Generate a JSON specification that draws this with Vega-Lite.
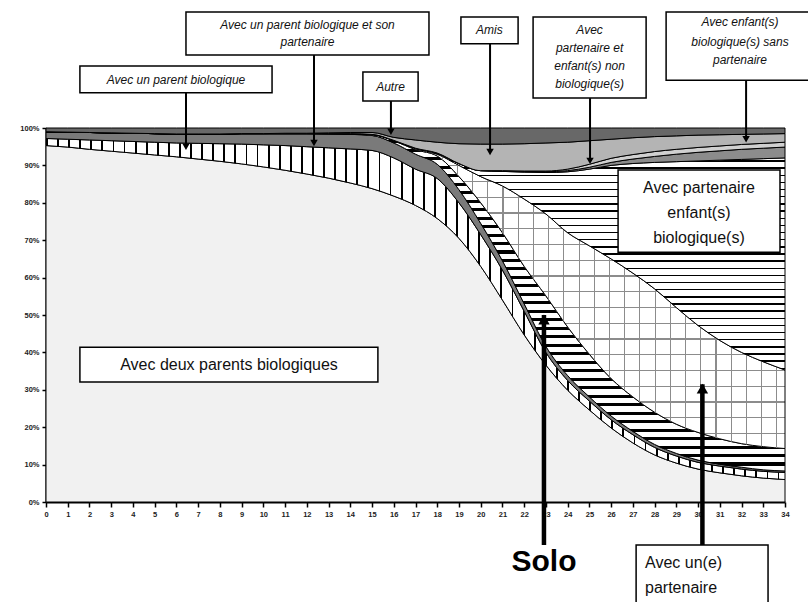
{
"$schema": "https://vega.github.io/schema/vega-lite/v6.json",
"width": 739, "height": 374,
"autosize": {"type": "none"},
"padding": {"left": 46, "top": 128, "right": 23, "bottom": 100},
"background": "white",
"config": {"view": {"stroke": null},
 "axis": {"domainColor": "#000", "domainWidth": 2, "tickColor": "#000", "tickWidth": 1.5, "tickSize": 5, "labelFont": "Liberation Sans", "labelFontSize": 7.5, "labelFontWeight": "bold", "labelColor": "#222", "grid": false, "title": null}},
"datasets": {"main": [
{"age":0,"a_deux":95.3,"b_un":1.9,"c_parpart":1.8,"d_solo":0,"e_part":0,"f_partbio":0,"g_biosans":0,"h_nonbio":0,"i_amis":0,"j_autre":1.0},
{"age":1,"a_deux":94.9,"b_un":2.1,"c_parpart":1.9,"d_solo":0,"e_part":0,"f_partbio":0,"g_biosans":0,"h_nonbio":0,"i_amis":0,"j_autre":1.1},
{"age":2,"a_deux":94.3,"b_un":2.5,"c_parpart":2.0,"d_solo":0,"e_part":0,"f_partbio":0,"g_biosans":0,"h_nonbio":0,"i_amis":0,"j_autre":1.2},
{"age":3,"a_deux":93.8,"b_un":2.8,"c_parpart":2.1,"d_solo":0,"e_part":0,"f_partbio":0,"g_biosans":0,"h_nonbio":0,"i_amis":0,"j_autre":1.3},
{"age":4,"a_deux":93.3,"b_un":3.1,"c_parpart":2.2,"d_solo":0,"e_part":0,"f_partbio":0,"g_biosans":0,"h_nonbio":0,"i_amis":0,"j_autre":1.4},
{"age":5,"a_deux":92.8,"b_un":3.4,"c_parpart":2.3,"d_solo":0,"e_part":0,"f_partbio":0,"g_biosans":0,"h_nonbio":0,"i_amis":0,"j_autre":1.5},
{"age":6,"a_deux":92.3,"b_un":3.7,"c_parpart":2.4,"d_solo":0,"e_part":0,"f_partbio":0,"g_biosans":0,"h_nonbio":0,"i_amis":0,"j_autre":1.6},
{"age":7,"a_deux":91.7,"b_un":4.2,"c_parpart":2.5,"d_solo":0,"e_part":0,"f_partbio":0,"g_biosans":0,"h_nonbio":0,"i_amis":0,"j_autre":1.6},
{"age":8,"a_deux":91.1,"b_un":4.7,"c_parpart":2.6,"d_solo":0,"e_part":0,"f_partbio":0,"g_biosans":0,"h_nonbio":0,"i_amis":0,"j_autre":1.6},
{"age":9,"a_deux":90.4,"b_un":5.3,"c_parpart":2.8,"d_solo":0,"e_part":0,"f_partbio":0,"g_biosans":0,"h_nonbio":0,"i_amis":0,"j_autre":1.5},
{"age":10,"a_deux":89.6,"b_un":5.9,"c_parpart":3.0,"d_solo":0,"e_part":0,"f_partbio":0,"g_biosans":0,"h_nonbio":0,"i_amis":0,"j_autre":1.5},
{"age":11,"a_deux":88.7,"b_un":6.6,"c_parpart":3.2,"d_solo":0,"e_part":0,"f_partbio":0,"g_biosans":0,"h_nonbio":0,"i_amis":0.1,"j_autre":1.4},
{"age":12,"a_deux":87.7,"b_un":7.3,"c_parpart":3.5,"d_solo":0,"e_part":0,"f_partbio":0,"g_biosans":0,"h_nonbio":0,"i_amis":0.1,"j_autre":1.4},
{"age":13,"a_deux":86.6,"b_un":8.1,"c_parpart":3.7,"d_solo":0.1,"e_part":0,"f_partbio":0,"g_biosans":0,"h_nonbio":0,"i_amis":0.2,"j_autre":1.3},
{"age":14,"a_deux":85.3,"b_un":9.1,"c_parpart":3.9,"d_solo":0.2,"e_part":0,"f_partbio":0,"g_biosans":0,"h_nonbio":0,"i_amis":0.3,"j_autre":1.2},
{"age":15,"a_deux":83.8,"b_un":10.2,"c_parpart":4.0,"d_solo":0.3,"e_part":0,"f_partbio":0,"g_biosans":0,"h_nonbio":0,"i_amis":0.5,"j_autre":1.2},
{"age":16,"a_deux":81.8,"b_un":10.2,"c_parpart":4.0,"d_solo":0.6,"e_part":0.1,"f_partbio":0,"g_biosans":0,"h_nonbio":0,"i_amis":0.8,"j_autre":2.5},
{"age":17,"a_deux":79.3,"b_un":9.7,"c_parpart":4.0,"d_solo":1.2,"e_part":0.3,"f_partbio":0.1,"g_biosans":0,"h_nonbio":0,"i_amis":2.2,"j_autre":3.2},
{"age":18,"a_deux":75.8,"b_un":10.7,"c_parpart":3.8,"d_solo":2.2,"e_part":0.5,"f_partbio":0.3,"g_biosans":0,"h_nonbio":0,"i_amis":2.9,"j_autre":3.8},
{"age":19,"a_deux":70.5,"b_un":9.5,"c_parpart":3.5,"d_solo":3.5,"e_part":3.0,"f_partbio":0.5,"g_biosans":0,"h_nonbio":0,"i_amis":5.3,"j_autre":4.2},
{"age":20,"a_deux":63.0,"b_un":8.5,"c_parpart":3.0,"d_solo":5.5,"e_part":7.0,"f_partbio":1.6,"g_biosans":0,"h_nonbio":0,"i_amis":7.1,"j_autre":4.3},
{"age":21,"a_deux":54.0,"b_un":8.0,"c_parpart":2.5,"d_solo":7.5,"e_part":12.5,"f_partbio":3.9,"g_biosans":0.1,"h_nonbio":0.1,"i_amis":7.1,"j_autre":4.3},
{"age":22,"a_deux":44.7,"b_un":6.3,"c_parpart":2.0,"d_solo":10.0,"e_part":18.0,"f_partbio":7.2,"g_biosans":0.2,"h_nonbio":0.1,"i_amis":7.3,"j_autre":4.2},
{"age":23,"a_deux":36.6,"b_un":3.4,"c_parpart":1.6,"d_solo":13.5,"e_part":21.9,"f_partbio":11.1,"g_biosans":0.2,"h_nonbio":0.2,"i_amis":7.5,"j_autre":4.0},
{"age":24,"a_deux":29.9,"b_un":2.6,"c_parpart":1.3,"d_solo":13.0,"e_part":25.2,"f_partbio":16.3,"g_biosans":0.3,"h_nonbio":0.4,"i_amis":7.2,"j_autre":3.8},
{"age":25,"a_deux":24.6,"b_un":2.4,"c_parpart":1.1,"d_solo":11.4,"e_part":29.0,"f_partbio":20.5,"g_biosans":0.5,"h_nonbio":0.8,"i_amis":6.3,"j_autre":3.4},
{"age":26,"a_deux":19.8,"b_un":2.2,"c_parpart":1.0,"d_solo":10.0,"e_part":32.0,"f_partbio":25.0,"g_biosans":0.8,"h_nonbio":1.1,"i_amis":5.1,"j_autre":3.0},
{"age":27,"a_deux":15.8,"b_un":2.2,"c_parpart":0.9,"d_solo":9.2,"e_part":33.1,"f_partbio":29.3,"g_biosans":1.2,"h_nonbio":1.2,"i_amis":4.5,"j_autre":2.6},
{"age":28,"a_deux":12.6,"b_un":2.0,"c_parpart":0.8,"d_solo":8.6,"e_part":33.0,"f_partbio":33.8,"g_biosans":1.6,"h_nonbio":1.3,"i_amis":4.0,"j_autre":2.3},
{"age":29,"a_deux":10.4,"b_un":1.9,"c_parpart":0.7,"d_solo":7.8,"e_part":31.2,"f_partbio":39.0,"g_biosans":2.0,"h_nonbio":1.3,"i_amis":3.6,"j_autre":2.1},
{"age":30,"a_deux":8.8,"b_un":1.8,"c_parpart":0.6,"d_solo":7.4,"e_part":28.6,"f_partbio":44.0,"g_biosans":2.3,"h_nonbio":1.3,"i_amis":3.3,"j_autre":1.9},
{"age":31,"a_deux":7.8,"b_un":1.8,"c_parpart":0.5,"d_solo":6.8,"e_part":26.3,"f_partbio":48.2,"g_biosans":2.5,"h_nonbio":1.3,"i_amis":3.0,"j_autre":1.8},
{"age":32,"a_deux":7.0,"b_un":1.8,"c_parpart":0.5,"d_solo":6.3,"e_part":24.4,"f_partbio":51.6,"g_biosans":2.7,"h_nonbio":1.3,"i_amis":2.7,"j_autre":1.7},
{"age":33,"a_deux":6.4,"b_un":1.8,"c_parpart":0.4,"d_solo":6.2,"e_part":22.7,"f_partbio":54.3,"g_biosans":2.8,"h_nonbio":1.3,"i_amis":2.5,"j_autre":1.6},
{"age":34,"a_deux":6.0,"b_un":1.9,"c_parpart":0.4,"d_solo":6.0,"e_part":21.0,"f_partbio":56.7,"g_biosans":2.9,"h_nonbio":1.3,"i_amis":2.3,"j_autre":1.5}
]},
"encoding": {
 "x": {"field": "age", "type": "quantitative", "scale": {"domain": [0, 34], "nice": false, "zero": false},
  "axis": {"values": [0,1,2,3,4,5,6,7,8,9,10,11,12,13,14,15,16,17,18,19,20,21,22,23,24,25,26,27,28,29,30,31,32,33,34], "labelAngle": 0, "labelPadding": 3, "labelFlush": false, "labelOverlap": false}},
 "y": {"field": "hi", "type": "quantitative", "scale": {"domain": [0, 100], "nice": false},
  "axis": {"values": [0,10,20,30,40,50,60,70,80,90,100], "labelExpr": "datum.value + '%'", "tickSize": 4, "labelPadding": 3}}
},
"layer": [
 {"data": {"name": "main"},
  "transform": [
   {"fold": ["a_deux","b_un","c_parpart","d_solo","e_part","f_partbio","g_biosans","h_nonbio","i_amis","j_autre"], "as": ["cat", "v"]},
   {"stack": "v", "groupby": ["age"], "sort": [{"field": "cat", "order": "ascending"}], "as": ["lo", "hi"]}
  ],
  "encoding": {"y2": {"field": "lo"}},
  "layer": [
   {"transform": [{"filter": "datum.cat == 'a_deux'"}], "mark": {"type": "area", "interpolate": "monotone", "fill": "#f1f1f1", "stroke": "#000", "strokeWidth": 1}},
   {"transform": [{"filter": "datum.cat == 'b_un'"}], "mark": {"type": "area", "interpolate": "monotone", "stroke": "#000", "strokeWidth": 1,
    "fill": {"gradient": "linear", "x1": 0, "y1": 0, "x2": 1, "y2": 0, "stops": [
{"offset":0,"color":"#000"},{"offset":0.0025,"color":"#000"},{"offset":0.0025,"color":"#fff"},{"offset":0.015,"color":"#fff"},
{"offset":0.015,"color":"#000"},{"offset":0.0175,"color":"#000"},{"offset":0.0175,"color":"#fff"},{"offset":0.03,"color":"#fff"},
{"offset":0.03,"color":"#000"},{"offset":0.0325,"color":"#000"},{"offset":0.0325,"color":"#fff"},{"offset":0.045,"color":"#fff"},
{"offset":0.045,"color":"#000"},{"offset":0.0475,"color":"#000"},{"offset":0.0475,"color":"#fff"},{"offset":0.06,"color":"#fff"},
{"offset":0.06,"color":"#000"},{"offset":0.0625,"color":"#000"},{"offset":0.0625,"color":"#fff"},{"offset":0.075,"color":"#fff"},
{"offset":0.075,"color":"#000"},{"offset":0.0775,"color":"#000"},{"offset":0.0775,"color":"#fff"},{"offset":0.09,"color":"#fff"},
{"offset":0.09,"color":"#000"},{"offset":0.0925,"color":"#000"},{"offset":0.0925,"color":"#fff"},{"offset":0.105,"color":"#fff"},
{"offset":0.105,"color":"#000"},{"offset":0.1075,"color":"#000"},{"offset":0.1075,"color":"#fff"},{"offset":0.12,"color":"#fff"},
{"offset":0.12,"color":"#000"},{"offset":0.1225,"color":"#000"},{"offset":0.1225,"color":"#fff"},{"offset":0.135,"color":"#fff"},
{"offset":0.135,"color":"#000"},{"offset":0.1375,"color":"#000"},{"offset":0.1375,"color":"#fff"},{"offset":0.15,"color":"#fff"},
{"offset":0.15,"color":"#000"},{"offset":0.1525,"color":"#000"},{"offset":0.1525,"color":"#fff"},{"offset":0.165,"color":"#fff"},
{"offset":0.165,"color":"#000"},{"offset":0.1675,"color":"#000"},{"offset":0.1675,"color":"#fff"},{"offset":0.18,"color":"#fff"},
{"offset":0.18,"color":"#000"},{"offset":0.1825,"color":"#000"},{"offset":0.1825,"color":"#fff"},{"offset":0.195,"color":"#fff"},
{"offset":0.195,"color":"#000"},{"offset":0.1975,"color":"#000"},{"offset":0.1975,"color":"#fff"},{"offset":0.21,"color":"#fff"},
{"offset":0.21,"color":"#000"},{"offset":0.2125,"color":"#000"},{"offset":0.2125,"color":"#fff"},{"offset":0.225,"color":"#fff"},
{"offset":0.225,"color":"#000"},{"offset":0.2275,"color":"#000"},{"offset":0.2275,"color":"#fff"},{"offset":0.24,"color":"#fff"},
{"offset":0.24,"color":"#000"},{"offset":0.2425,"color":"#000"},{"offset":0.2425,"color":"#fff"},{"offset":0.255,"color":"#fff"},
{"offset":0.255,"color":"#000"},{"offset":0.2575,"color":"#000"},{"offset":0.2575,"color":"#fff"},{"offset":0.27,"color":"#fff"},
{"offset":0.27,"color":"#000"},{"offset":0.2725,"color":"#000"},{"offset":0.2725,"color":"#fff"},{"offset":0.285,"color":"#fff"},
{"offset":0.285,"color":"#000"},{"offset":0.2875,"color":"#000"},{"offset":0.2875,"color":"#fff"},{"offset":0.3,"color":"#fff"},
{"offset":0.3,"color":"#000"},{"offset":0.3025,"color":"#000"},{"offset":0.3025,"color":"#fff"},{"offset":0.315,"color":"#fff"},
{"offset":0.315,"color":"#000"},{"offset":0.3175,"color":"#000"},{"offset":0.3175,"color":"#fff"},{"offset":0.33,"color":"#fff"},
{"offset":0.33,"color":"#000"},{"offset":0.3325,"color":"#000"},{"offset":0.3325,"color":"#fff"},{"offset":0.345,"color":"#fff"},
{"offset":0.345,"color":"#000"},{"offset":0.3475,"color":"#000"},{"offset":0.3475,"color":"#fff"},{"offset":0.36,"color":"#fff"},
{"offset":0.36,"color":"#000"},{"offset":0.3625,"color":"#000"},{"offset":0.3625,"color":"#fff"},{"offset":0.375,"color":"#fff"},
{"offset":0.375,"color":"#000"},{"offset":0.3775,"color":"#000"},{"offset":0.3775,"color":"#fff"},{"offset":0.39,"color":"#fff"},
{"offset":0.39,"color":"#000"},{"offset":0.3925,"color":"#000"},{"offset":0.3925,"color":"#fff"},{"offset":0.405,"color":"#fff"},
{"offset":0.405,"color":"#000"},{"offset":0.4075,"color":"#000"},{"offset":0.4075,"color":"#fff"},{"offset":0.42,"color":"#fff"},
{"offset":0.42,"color":"#000"},{"offset":0.4225,"color":"#000"},{"offset":0.4225,"color":"#fff"},{"offset":0.435,"color":"#fff"},
{"offset":0.435,"color":"#000"},{"offset":0.4375,"color":"#000"},{"offset":0.4375,"color":"#fff"},{"offset":0.45,"color":"#fff"},
{"offset":0.45,"color":"#000"},{"offset":0.4525,"color":"#000"},{"offset":0.4525,"color":"#fff"},{"offset":0.465,"color":"#fff"},
{"offset":0.465,"color":"#000"},{"offset":0.4675,"color":"#000"},{"offset":0.4675,"color":"#fff"},{"offset":0.48,"color":"#fff"},
{"offset":0.48,"color":"#000"},{"offset":0.4825,"color":"#000"},{"offset":0.4825,"color":"#fff"},{"offset":0.495,"color":"#fff"},
{"offset":0.495,"color":"#000"},{"offset":0.4975,"color":"#000"},{"offset":0.4975,"color":"#fff"},{"offset":0.51,"color":"#fff"},
{"offset":0.51,"color":"#000"},{"offset":0.5125,"color":"#000"},{"offset":0.5125,"color":"#fff"},{"offset":0.525,"color":"#fff"},
{"offset":0.525,"color":"#000"},{"offset":0.5275,"color":"#000"},{"offset":0.5275,"color":"#fff"},{"offset":0.54,"color":"#fff"},
{"offset":0.54,"color":"#000"},{"offset":0.5425,"color":"#000"},{"offset":0.5425,"color":"#fff"},{"offset":0.555,"color":"#fff"},
{"offset":0.555,"color":"#000"},{"offset":0.5575,"color":"#000"},{"offset":0.5575,"color":"#fff"},{"offset":0.57,"color":"#fff"},
{"offset":0.57,"color":"#000"},{"offset":0.5725,"color":"#000"},{"offset":0.5725,"color":"#fff"},{"offset":0.585,"color":"#fff"},
{"offset":0.585,"color":"#000"},{"offset":0.5875,"color":"#000"},{"offset":0.5875,"color":"#fff"},{"offset":0.6,"color":"#fff"},
{"offset":0.6,"color":"#000"},{"offset":0.6025,"color":"#000"},{"offset":0.6025,"color":"#fff"},{"offset":0.615,"color":"#fff"},
{"offset":0.615,"color":"#000"},{"offset":0.6175,"color":"#000"},{"offset":0.6175,"color":"#fff"},{"offset":0.63,"color":"#fff"},
{"offset":0.63,"color":"#000"},{"offset":0.6325,"color":"#000"},{"offset":0.6325,"color":"#fff"},{"offset":0.645,"color":"#fff"},
{"offset":0.645,"color":"#000"},{"offset":0.6475,"color":"#000"},{"offset":0.6475,"color":"#fff"},{"offset":0.66,"color":"#fff"},
{"offset":0.66,"color":"#000"},{"offset":0.6625,"color":"#000"},{"offset":0.6625,"color":"#fff"},{"offset":0.675,"color":"#fff"},
{"offset":0.675,"color":"#000"},{"offset":0.6775,"color":"#000"},{"offset":0.6775,"color":"#fff"},{"offset":0.69,"color":"#fff"},
{"offset":0.69,"color":"#000"},{"offset":0.6925,"color":"#000"},{"offset":0.6925,"color":"#fff"},{"offset":0.705,"color":"#fff"},
{"offset":0.705,"color":"#000"},{"offset":0.7075,"color":"#000"},{"offset":0.7075,"color":"#fff"},{"offset":0.72,"color":"#fff"},
{"offset":0.72,"color":"#000"},{"offset":0.7225,"color":"#000"},{"offset":0.7225,"color":"#fff"},{"offset":0.735,"color":"#fff"},
{"offset":0.735,"color":"#000"},{"offset":0.7375,"color":"#000"},{"offset":0.7375,"color":"#fff"},{"offset":0.75,"color":"#fff"},
{"offset":0.75,"color":"#000"},{"offset":0.7525,"color":"#000"},{"offset":0.7525,"color":"#fff"},{"offset":0.765,"color":"#fff"},
{"offset":0.765,"color":"#000"},{"offset":0.7675,"color":"#000"},{"offset":0.7675,"color":"#fff"},{"offset":0.78,"color":"#fff"},
{"offset":0.78,"color":"#000"},{"offset":0.7825,"color":"#000"},{"offset":0.7825,"color":"#fff"},{"offset":0.795,"color":"#fff"},
{"offset":0.795,"color":"#000"},{"offset":0.7975,"color":"#000"},{"offset":0.7975,"color":"#fff"},{"offset":0.81,"color":"#fff"},
{"offset":0.81,"color":"#000"},{"offset":0.8125,"color":"#000"},{"offset":0.8125,"color":"#fff"},{"offset":0.825,"color":"#fff"},
{"offset":0.825,"color":"#000"},{"offset":0.8275,"color":"#000"},{"offset":0.8275,"color":"#fff"},{"offset":0.84,"color":"#fff"},
{"offset":0.84,"color":"#000"},{"offset":0.8425,"color":"#000"},{"offset":0.8425,"color":"#fff"},{"offset":0.855,"color":"#fff"},
{"offset":0.855,"color":"#000"},{"offset":0.8575,"color":"#000"},{"offset":0.8575,"color":"#fff"},{"offset":0.87,"color":"#fff"},
{"offset":0.87,"color":"#000"},{"offset":0.8725,"color":"#000"},{"offset":0.8725,"color":"#fff"},{"offset":0.885,"color":"#fff"},
{"offset":0.885,"color":"#000"},{"offset":0.8875,"color":"#000"},{"offset":0.8875,"color":"#fff"},{"offset":0.9,"color":"#fff"},
{"offset":0.9,"color":"#000"},{"offset":0.9025,"color":"#000"},{"offset":0.9025,"color":"#fff"},{"offset":0.915,"color":"#fff"},
{"offset":0.915,"color":"#000"},{"offset":0.9175,"color":"#000"},{"offset":0.9175,"color":"#fff"},{"offset":0.93,"color":"#fff"},
{"offset":0.93,"color":"#000"},{"offset":0.9325,"color":"#000"},{"offset":0.9325,"color":"#fff"},{"offset":0.945,"color":"#fff"},
{"offset":0.945,"color":"#000"},{"offset":0.9475,"color":"#000"},{"offset":0.9475,"color":"#fff"},{"offset":0.96,"color":"#fff"},
{"offset":0.96,"color":"#000"},{"offset":0.9625,"color":"#000"},{"offset":0.9625,"color":"#fff"},{"offset":0.975,"color":"#fff"},
{"offset":0.975,"color":"#000"},{"offset":0.9775,"color":"#000"},{"offset":0.9775,"color":"#fff"},{"offset":0.99,"color":"#fff"},
{"offset":0.99,"color":"#000"},{"offset":0.9925,"color":"#000"},{"offset":0.9925,"color":"#fff"},{"offset":1,"color":"#fff"}
    ]}}},
   {"transform": [{"filter": "datum.cat == 'c_parpart'"}], "mark": {"type": "area", "interpolate": "monotone", "fill": "#7a7a7a", "stroke": "#000", "strokeWidth": 1}},
   {"transform": [{"filter": "datum.cat == 'd_solo'"}], "mark": {"type": "area", "interpolate": "monotone", "stroke": "#000", "strokeWidth": 1,
    "fill": {"gradient": "linear", "x1": 0, "y1": 0, "x2": 0, "y2": 1, "stops": [
{"offset":0,"color":"#000"},{"offset":0.009,"color":"#000"},{"offset":0.009,"color":"#fff"},{"offset":0.025,"color":"#fff"},
{"offset":0.025,"color":"#000"},{"offset":0.034,"color":"#000"},{"offset":0.034,"color":"#fff"},{"offset":0.05,"color":"#fff"},
{"offset":0.05,"color":"#000"},{"offset":0.059,"color":"#000"},{"offset":0.059,"color":"#fff"},{"offset":0.075,"color":"#fff"},
{"offset":0.075,"color":"#000"},{"offset":0.084,"color":"#000"},{"offset":0.084,"color":"#fff"},{"offset":0.1,"color":"#fff"},
{"offset":0.1,"color":"#000"},{"offset":0.109,"color":"#000"},{"offset":0.109,"color":"#fff"},{"offset":0.125,"color":"#fff"},
{"offset":0.125,"color":"#000"},{"offset":0.134,"color":"#000"},{"offset":0.134,"color":"#fff"},{"offset":0.15,"color":"#fff"},
{"offset":0.15,"color":"#000"},{"offset":0.159,"color":"#000"},{"offset":0.159,"color":"#fff"},{"offset":0.175,"color":"#fff"},
{"offset":0.175,"color":"#000"},{"offset":0.184,"color":"#000"},{"offset":0.184,"color":"#fff"},{"offset":0.2,"color":"#fff"},
{"offset":0.2,"color":"#000"},{"offset":0.209,"color":"#000"},{"offset":0.209,"color":"#fff"},{"offset":0.225,"color":"#fff"},
{"offset":0.225,"color":"#000"},{"offset":0.234,"color":"#000"},{"offset":0.234,"color":"#fff"},{"offset":0.25,"color":"#fff"},
{"offset":0.25,"color":"#000"},{"offset":0.259,"color":"#000"},{"offset":0.259,"color":"#fff"},{"offset":0.275,"color":"#fff"},
{"offset":0.275,"color":"#000"},{"offset":0.284,"color":"#000"},{"offset":0.284,"color":"#fff"},{"offset":0.3,"color":"#fff"},
{"offset":0.3,"color":"#000"},{"offset":0.309,"color":"#000"},{"offset":0.309,"color":"#fff"},{"offset":0.325,"color":"#fff"},
{"offset":0.325,"color":"#000"},{"offset":0.334,"color":"#000"},{"offset":0.334,"color":"#fff"},{"offset":0.35,"color":"#fff"},
{"offset":0.35,"color":"#000"},{"offset":0.359,"color":"#000"},{"offset":0.359,"color":"#fff"},{"offset":0.375,"color":"#fff"},
{"offset":0.375,"color":"#000"},{"offset":0.384,"color":"#000"},{"offset":0.384,"color":"#fff"},{"offset":0.4,"color":"#fff"},
{"offset":0.4,"color":"#000"},{"offset":0.409,"color":"#000"},{"offset":0.409,"color":"#fff"},{"offset":0.425,"color":"#fff"},
{"offset":0.425,"color":"#000"},{"offset":0.434,"color":"#000"},{"offset":0.434,"color":"#fff"},{"offset":0.45,"color":"#fff"},
{"offset":0.45,"color":"#000"},{"offset":0.459,"color":"#000"},{"offset":0.459,"color":"#fff"},{"offset":0.475,"color":"#fff"},
{"offset":0.475,"color":"#000"},{"offset":0.484,"color":"#000"},{"offset":0.484,"color":"#fff"},{"offset":0.5,"color":"#fff"},
{"offset":0.5,"color":"#000"},{"offset":0.509,"color":"#000"},{"offset":0.509,"color":"#fff"},{"offset":0.525,"color":"#fff"},
{"offset":0.525,"color":"#000"},{"offset":0.534,"color":"#000"},{"offset":0.534,"color":"#fff"},{"offset":0.55,"color":"#fff"},
{"offset":0.55,"color":"#000"},{"offset":0.559,"color":"#000"},{"offset":0.559,"color":"#fff"},{"offset":0.575,"color":"#fff"},
{"offset":0.575,"color":"#000"},{"offset":0.584,"color":"#000"},{"offset":0.584,"color":"#fff"},{"offset":0.6,"color":"#fff"},
{"offset":0.6,"color":"#000"},{"offset":0.609,"color":"#000"},{"offset":0.609,"color":"#fff"},{"offset":0.625,"color":"#fff"},
{"offset":0.625,"color":"#000"},{"offset":0.634,"color":"#000"},{"offset":0.634,"color":"#fff"},{"offset":0.65,"color":"#fff"},
{"offset":0.65,"color":"#000"},{"offset":0.659,"color":"#000"},{"offset":0.659,"color":"#fff"},{"offset":0.675,"color":"#fff"},
{"offset":0.675,"color":"#000"},{"offset":0.684,"color":"#000"},{"offset":0.684,"color":"#fff"},{"offset":0.7,"color":"#fff"},
{"offset":0.7,"color":"#000"},{"offset":0.709,"color":"#000"},{"offset":0.709,"color":"#fff"},{"offset":0.725,"color":"#fff"},
{"offset":0.725,"color":"#000"},{"offset":0.734,"color":"#000"},{"offset":0.734,"color":"#fff"},{"offset":0.75,"color":"#fff"},
{"offset":0.75,"color":"#000"},{"offset":0.759,"color":"#000"},{"offset":0.759,"color":"#fff"},{"offset":0.775,"color":"#fff"},
{"offset":0.775,"color":"#000"},{"offset":0.784,"color":"#000"},{"offset":0.784,"color":"#fff"},{"offset":0.8,"color":"#fff"},
{"offset":0.8,"color":"#000"},{"offset":0.809,"color":"#000"},{"offset":0.809,"color":"#fff"},{"offset":0.825,"color":"#fff"},
{"offset":0.825,"color":"#000"},{"offset":0.834,"color":"#000"},{"offset":0.834,"color":"#fff"},{"offset":0.85,"color":"#fff"},
{"offset":0.85,"color":"#000"},{"offset":0.859,"color":"#000"},{"offset":0.859,"color":"#fff"},{"offset":0.875,"color":"#fff"},
{"offset":0.875,"color":"#000"},{"offset":0.884,"color":"#000"},{"offset":0.884,"color":"#fff"},{"offset":0.9,"color":"#fff"},
{"offset":0.9,"color":"#000"},{"offset":0.909,"color":"#000"},{"offset":0.909,"color":"#fff"},{"offset":0.925,"color":"#fff"},
{"offset":0.925,"color":"#000"},{"offset":0.934,"color":"#000"},{"offset":0.934,"color":"#fff"},{"offset":0.95,"color":"#fff"},
{"offset":0.95,"color":"#000"},{"offset":0.959,"color":"#000"},{"offset":0.959,"color":"#fff"},{"offset":0.975,"color":"#fff"},
{"offset":0.975,"color":"#000"},{"offset":0.984,"color":"#000"},{"offset":0.984,"color":"#fff"},{"offset":1,"color":"#fff"}
    ]}}},
   {"transform": [{"filter": "datum.cat == 'e_part' && datum.age >= 14"}], "mark": {"type": "area", "interpolate": "monotone", "stroke": "#000", "strokeWidth": 1,
    "fill": {"gradient": "linear", "x1": 0, "y1": 0, "x2": 0, "y2": 1, "stops": [
{"offset":0,"color":"#8c8c8c"},{"offset":0.004,"color":"#8c8c8c"},{"offset":0.004,"color":"#fff"},{"offset":0.05,"color":"#fff"},
{"offset":0.05,"color":"#8c8c8c"},{"offset":0.054,"color":"#8c8c8c"},{"offset":0.054,"color":"#fff"},{"offset":0.1,"color":"#fff"},
{"offset":0.1,"color":"#8c8c8c"},{"offset":0.104,"color":"#8c8c8c"},{"offset":0.104,"color":"#fff"},{"offset":0.15,"color":"#fff"},
{"offset":0.15,"color":"#8c8c8c"},{"offset":0.154,"color":"#8c8c8c"},{"offset":0.154,"color":"#fff"},{"offset":0.2,"color":"#fff"},
{"offset":0.2,"color":"#8c8c8c"},{"offset":0.204,"color":"#8c8c8c"},{"offset":0.204,"color":"#fff"},{"offset":0.25,"color":"#fff"},
{"offset":0.25,"color":"#8c8c8c"},{"offset":0.254,"color":"#8c8c8c"},{"offset":0.254,"color":"#fff"},{"offset":0.3,"color":"#fff"},
{"offset":0.3,"color":"#8c8c8c"},{"offset":0.304,"color":"#8c8c8c"},{"offset":0.304,"color":"#fff"},{"offset":0.35,"color":"#fff"},
{"offset":0.35,"color":"#8c8c8c"},{"offset":0.354,"color":"#8c8c8c"},{"offset":0.354,"color":"#fff"},{"offset":0.4,"color":"#fff"},
{"offset":0.4,"color":"#8c8c8c"},{"offset":0.404,"color":"#8c8c8c"},{"offset":0.404,"color":"#fff"},{"offset":0.45,"color":"#fff"},
{"offset":0.45,"color":"#8c8c8c"},{"offset":0.454,"color":"#8c8c8c"},{"offset":0.454,"color":"#fff"},{"offset":0.5,"color":"#fff"},
{"offset":0.5,"color":"#8c8c8c"},{"offset":0.504,"color":"#8c8c8c"},{"offset":0.504,"color":"#fff"},{"offset":0.55,"color":"#fff"},
{"offset":0.55,"color":"#8c8c8c"},{"offset":0.554,"color":"#8c8c8c"},{"offset":0.554,"color":"#fff"},{"offset":0.6,"color":"#fff"},
{"offset":0.6,"color":"#8c8c8c"},{"offset":0.604,"color":"#8c8c8c"},{"offset":0.604,"color":"#fff"},{"offset":0.65,"color":"#fff"},
{"offset":0.65,"color":"#8c8c8c"},{"offset":0.654,"color":"#8c8c8c"},{"offset":0.654,"color":"#fff"},{"offset":0.7,"color":"#fff"},
{"offset":0.7,"color":"#8c8c8c"},{"offset":0.704,"color":"#8c8c8c"},{"offset":0.704,"color":"#fff"},{"offset":0.75,"color":"#fff"},
{"offset":0.75,"color":"#8c8c8c"},{"offset":0.754,"color":"#8c8c8c"},{"offset":0.754,"color":"#fff"},{"offset":0.8,"color":"#fff"},
{"offset":0.8,"color":"#8c8c8c"},{"offset":0.804,"color":"#8c8c8c"},{"offset":0.804,"color":"#fff"},{"offset":0.85,"color":"#fff"},
{"offset":0.85,"color":"#8c8c8c"},{"offset":0.854,"color":"#8c8c8c"},{"offset":0.854,"color":"#fff"},{"offset":0.9,"color":"#fff"},
{"offset":0.9,"color":"#8c8c8c"},{"offset":0.904,"color":"#8c8c8c"},{"offset":0.904,"color":"#fff"},{"offset":0.95,"color":"#fff"},
{"offset":0.95,"color":"#8c8c8c"},{"offset":0.954,"color":"#8c8c8c"},{"offset":0.954,"color":"#fff"},{"offset":1,"color":"#fff"}
    ]}}},
   {"transform": [{"filter": "datum.cat == 'e_part' && datum.age >= 14"}], "mark": {"type": "area", "interpolate": "monotone", "strokeWidth": 0,
    "fill": {"gradient": "linear", "x1": 0, "y1": 0, "x2": 1, "y2": 0, "stops": [
{"offset":0,"color":"#8c8c8c"},{"offset":0.0025,"color":"#8c8c8c"},{"offset":0.0025,"color":"rgba(255,255,255,0)"},{"offset":0.035,"color":"rgba(255,255,255,0)"},
{"offset":0.035,"color":"#8c8c8c"},{"offset":0.0375,"color":"#8c8c8c"},{"offset":0.0375,"color":"rgba(255,255,255,0)"},{"offset":0.07,"color":"rgba(255,255,255,0)"},
{"offset":0.07,"color":"#8c8c8c"},{"offset":0.0725,"color":"#8c8c8c"},{"offset":0.0725,"color":"rgba(255,255,255,0)"},{"offset":0.105,"color":"rgba(255,255,255,0)"},
{"offset":0.105,"color":"#8c8c8c"},{"offset":0.1075,"color":"#8c8c8c"},{"offset":0.1075,"color":"rgba(255,255,255,0)"},{"offset":0.14,"color":"rgba(255,255,255,0)"},
{"offset":0.14,"color":"#8c8c8c"},{"offset":0.1425,"color":"#8c8c8c"},{"offset":0.1425,"color":"rgba(255,255,255,0)"},{"offset":0.175,"color":"rgba(255,255,255,0)"},
{"offset":0.175,"color":"#8c8c8c"},{"offset":0.1775,"color":"#8c8c8c"},{"offset":0.1775,"color":"rgba(255,255,255,0)"},{"offset":0.21,"color":"rgba(255,255,255,0)"},
{"offset":0.21,"color":"#8c8c8c"},{"offset":0.2125,"color":"#8c8c8c"},{"offset":0.2125,"color":"rgba(255,255,255,0)"},{"offset":0.245,"color":"rgba(255,255,255,0)"},
{"offset":0.245,"color":"#8c8c8c"},{"offset":0.2475,"color":"#8c8c8c"},{"offset":0.2475,"color":"rgba(255,255,255,0)"},{"offset":0.28,"color":"rgba(255,255,255,0)"},
{"offset":0.28,"color":"#8c8c8c"},{"offset":0.2825,"color":"#8c8c8c"},{"offset":0.2825,"color":"rgba(255,255,255,0)"},{"offset":0.315,"color":"rgba(255,255,255,0)"},
{"offset":0.315,"color":"#8c8c8c"},{"offset":0.3175,"color":"#8c8c8c"},{"offset":0.3175,"color":"rgba(255,255,255,0)"},{"offset":0.35,"color":"rgba(255,255,255,0)"},
{"offset":0.35,"color":"#8c8c8c"},{"offset":0.3525,"color":"#8c8c8c"},{"offset":0.3525,"color":"rgba(255,255,255,0)"},{"offset":0.385,"color":"rgba(255,255,255,0)"},
{"offset":0.385,"color":"#8c8c8c"},{"offset":0.3875,"color":"#8c8c8c"},{"offset":0.3875,"color":"rgba(255,255,255,0)"},{"offset":0.42,"color":"rgba(255,255,255,0)"},
{"offset":0.42,"color":"#8c8c8c"},{"offset":0.4225,"color":"#8c8c8c"},{"offset":0.4225,"color":"rgba(255,255,255,0)"},{"offset":0.455,"color":"rgba(255,255,255,0)"},
{"offset":0.455,"color":"#8c8c8c"},{"offset":0.4575,"color":"#8c8c8c"},{"offset":0.4575,"color":"rgba(255,255,255,0)"},{"offset":0.49,"color":"rgba(255,255,255,0)"},
{"offset":0.49,"color":"#8c8c8c"},{"offset":0.4925,"color":"#8c8c8c"},{"offset":0.4925,"color":"rgba(255,255,255,0)"},{"offset":0.525,"color":"rgba(255,255,255,0)"},
{"offset":0.525,"color":"#8c8c8c"},{"offset":0.5275,"color":"#8c8c8c"},{"offset":0.5275,"color":"rgba(255,255,255,0)"},{"offset":0.56,"color":"rgba(255,255,255,0)"},
{"offset":0.56,"color":"#8c8c8c"},{"offset":0.5625,"color":"#8c8c8c"},{"offset":0.5625,"color":"rgba(255,255,255,0)"},{"offset":0.595,"color":"rgba(255,255,255,0)"},
{"offset":0.595,"color":"#8c8c8c"},{"offset":0.5975,"color":"#8c8c8c"},{"offset":0.5975,"color":"rgba(255,255,255,0)"},{"offset":0.63,"color":"rgba(255,255,255,0)"},
{"offset":0.63,"color":"#8c8c8c"},{"offset":0.6325,"color":"#8c8c8c"},{"offset":0.6325,"color":"rgba(255,255,255,0)"},{"offset":0.665,"color":"rgba(255,255,255,0)"},
{"offset":0.665,"color":"#8c8c8c"},{"offset":0.6675,"color":"#8c8c8c"},{"offset":0.6675,"color":"rgba(255,255,255,0)"},{"offset":0.7,"color":"rgba(255,255,255,0)"},
{"offset":0.7,"color":"#8c8c8c"},{"offset":0.7025,"color":"#8c8c8c"},{"offset":0.7025,"color":"rgba(255,255,255,0)"},{"offset":0.735,"color":"rgba(255,255,255,0)"},
{"offset":0.735,"color":"#8c8c8c"},{"offset":0.7375,"color":"#8c8c8c"},{"offset":0.7375,"color":"rgba(255,255,255,0)"},{"offset":0.77,"color":"rgba(255,255,255,0)"},
{"offset":0.77,"color":"#8c8c8c"},{"offset":0.7725,"color":"#8c8c8c"},{"offset":0.7725,"color":"rgba(255,255,255,0)"},{"offset":0.805,"color":"rgba(255,255,255,0)"},
{"offset":0.805,"color":"#8c8c8c"},{"offset":0.8075,"color":"#8c8c8c"},{"offset":0.8075,"color":"rgba(255,255,255,0)"},{"offset":0.84,"color":"rgba(255,255,255,0)"},
{"offset":0.84,"color":"#8c8c8c"},{"offset":0.8425,"color":"#8c8c8c"},{"offset":0.8425,"color":"rgba(255,255,255,0)"},{"offset":0.875,"color":"rgba(255,255,255,0)"},
{"offset":0.875,"color":"#8c8c8c"},{"offset":0.8775,"color":"#8c8c8c"},{"offset":0.8775,"color":"rgba(255,255,255,0)"},{"offset":0.91,"color":"rgba(255,255,255,0)"},
{"offset":0.91,"color":"#8c8c8c"},{"offset":0.9125,"color":"#8c8c8c"},{"offset":0.9125,"color":"rgba(255,255,255,0)"},{"offset":0.945,"color":"rgba(255,255,255,0)"},
{"offset":0.945,"color":"#8c8c8c"},{"offset":0.9475,"color":"#8c8c8c"},{"offset":0.9475,"color":"rgba(255,255,255,0)"},{"offset":0.98,"color":"rgba(255,255,255,0)"},
{"offset":0.98,"color":"#8c8c8c"},{"offset":0.9825,"color":"#8c8c8c"},{"offset":0.9825,"color":"rgba(255,255,255,0)"},{"offset":1,"color":"rgba(255,255,255,0)"}
    ]}}},
   {"transform": [{"filter": "datum.cat == 'f_partbio'"}], "mark": {"type": "area", "interpolate": "monotone", "stroke": "#000", "strokeWidth": 1,
    "fill": {"gradient": "linear", "x1": 0, "y1": 0, "x2": 0, "y2": 1, "stops": [
{"offset":0,"color":"#000"},{"offset":0.006,"color":"#000"},{"offset":0.006,"color":"#fff"},{"offset":0.03,"color":"#fff"},
{"offset":0.03,"color":"#000"},{"offset":0.036,"color":"#000"},{"offset":0.036,"color":"#fff"},{"offset":0.06,"color":"#fff"},
{"offset":0.06,"color":"#000"},{"offset":0.066,"color":"#000"},{"offset":0.066,"color":"#fff"},{"offset":0.09,"color":"#fff"},
{"offset":0.09,"color":"#000"},{"offset":0.096,"color":"#000"},{"offset":0.096,"color":"#fff"},{"offset":0.12,"color":"#fff"},
{"offset":0.12,"color":"#000"},{"offset":0.126,"color":"#000"},{"offset":0.126,"color":"#fff"},{"offset":0.15,"color":"#fff"},
{"offset":0.15,"color":"#000"},{"offset":0.156,"color":"#000"},{"offset":0.156,"color":"#fff"},{"offset":0.18,"color":"#fff"},
{"offset":0.18,"color":"#000"},{"offset":0.186,"color":"#000"},{"offset":0.186,"color":"#fff"},{"offset":0.21,"color":"#fff"},
{"offset":0.21,"color":"#000"},{"offset":0.216,"color":"#000"},{"offset":0.216,"color":"#fff"},{"offset":0.24,"color":"#fff"},
{"offset":0.24,"color":"#000"},{"offset":0.246,"color":"#000"},{"offset":0.246,"color":"#fff"},{"offset":0.27,"color":"#fff"},
{"offset":0.27,"color":"#000"},{"offset":0.276,"color":"#000"},{"offset":0.276,"color":"#fff"},{"offset":0.3,"color":"#fff"},
{"offset":0.3,"color":"#000"},{"offset":0.306,"color":"#000"},{"offset":0.306,"color":"#fff"},{"offset":0.33,"color":"#fff"},
{"offset":0.33,"color":"#000"},{"offset":0.336,"color":"#000"},{"offset":0.336,"color":"#fff"},{"offset":0.36,"color":"#fff"},
{"offset":0.36,"color":"#000"},{"offset":0.366,"color":"#000"},{"offset":0.366,"color":"#fff"},{"offset":0.39,"color":"#fff"},
{"offset":0.39,"color":"#000"},{"offset":0.396,"color":"#000"},{"offset":0.396,"color":"#fff"},{"offset":0.42,"color":"#fff"},
{"offset":0.42,"color":"#000"},{"offset":0.426,"color":"#000"},{"offset":0.426,"color":"#fff"},{"offset":0.45,"color":"#fff"},
{"offset":0.45,"color":"#000"},{"offset":0.456,"color":"#000"},{"offset":0.456,"color":"#fff"},{"offset":0.48,"color":"#fff"},
{"offset":0.48,"color":"#000"},{"offset":0.486,"color":"#000"},{"offset":0.486,"color":"#fff"},{"offset":0.51,"color":"#fff"},
{"offset":0.51,"color":"#000"},{"offset":0.516,"color":"#000"},{"offset":0.516,"color":"#fff"},{"offset":0.54,"color":"#fff"},
{"offset":0.54,"color":"#000"},{"offset":0.546,"color":"#000"},{"offset":0.546,"color":"#fff"},{"offset":0.57,"color":"#fff"},
{"offset":0.57,"color":"#000"},{"offset":0.576,"color":"#000"},{"offset":0.576,"color":"#fff"},{"offset":0.6,"color":"#fff"},
{"offset":0.6,"color":"#000"},{"offset":0.606,"color":"#000"},{"offset":0.606,"color":"#fff"},{"offset":0.63,"color":"#fff"},
{"offset":0.63,"color":"#000"},{"offset":0.636,"color":"#000"},{"offset":0.636,"color":"#fff"},{"offset":0.66,"color":"#fff"},
{"offset":0.66,"color":"#000"},{"offset":0.666,"color":"#000"},{"offset":0.666,"color":"#fff"},{"offset":0.69,"color":"#fff"},
{"offset":0.69,"color":"#000"},{"offset":0.696,"color":"#000"},{"offset":0.696,"color":"#fff"},{"offset":0.72,"color":"#fff"},
{"offset":0.72,"color":"#000"},{"offset":0.726,"color":"#000"},{"offset":0.726,"color":"#fff"},{"offset":0.75,"color":"#fff"},
{"offset":0.75,"color":"#000"},{"offset":0.756,"color":"#000"},{"offset":0.756,"color":"#fff"},{"offset":0.78,"color":"#fff"},
{"offset":0.78,"color":"#000"},{"offset":0.786,"color":"#000"},{"offset":0.786,"color":"#fff"},{"offset":0.81,"color":"#fff"},
{"offset":0.81,"color":"#000"},{"offset":0.816,"color":"#000"},{"offset":0.816,"color":"#fff"},{"offset":0.84,"color":"#fff"},
{"offset":0.84,"color":"#000"},{"offset":0.846,"color":"#000"},{"offset":0.846,"color":"#fff"},{"offset":0.87,"color":"#fff"},
{"offset":0.87,"color":"#000"},{"offset":0.876,"color":"#000"},{"offset":0.876,"color":"#fff"},{"offset":0.9,"color":"#fff"},
{"offset":0.9,"color":"#000"},{"offset":0.906,"color":"#000"},{"offset":0.906,"color":"#fff"},{"offset":0.93,"color":"#fff"},
{"offset":0.93,"color":"#000"},{"offset":0.936,"color":"#000"},{"offset":0.936,"color":"#fff"},{"offset":0.96,"color":"#fff"},
{"offset":0.96,"color":"#000"},{"offset":0.966,"color":"#000"},{"offset":0.966,"color":"#fff"},{"offset":0.99,"color":"#fff"},
{"offset":0.99,"color":"#000"},{"offset":0.996,"color":"#000"},{"offset":0.996,"color":"#fff"},{"offset":1,"color":"#fff"}
    ]}}},
   {"transform": [{"filter": "datum.cat == 'g_biosans'"}], "mark": {"type": "area", "interpolate": "monotone", "fill": "#8c8c8c", "stroke": "#000", "strokeWidth": 1}},
   {"transform": [{"filter": "datum.cat == 'h_nonbio'"}], "mark": {"type": "area", "interpolate": "monotone", "fill": "#d0d0d0", "stroke": "#000", "strokeWidth": 1}},
   {"transform": [{"filter": "datum.cat == 'i_amis'"}], "mark": {"type": "area", "interpolate": "monotone", "fill": "#b4b4b4", "stroke": "#000", "strokeWidth": 1}},
   {"transform": [{"filter": "datum.cat == 'j_autre'"}], "mark": {"type": "area", "interpolate": "monotone", "fill": "#686868", "stroke": "#000", "strokeWidth": 1}}
  ]
 },
 {"data": {"values": [
   {"age": 1.56, "age2": 10.40, "hi": 116.6, "lo": 109.4},
   {"age": 6.44, "age2": 17.62, "hi": 131.0, "lo": 119.5},
   {"age": 14.58, "age2": 17.12, "hi": 115.0, "lo": 107.2},
   {"age": 19.09, "age2": 21.72, "hi": 129.7, "lo": 122.5},
   {"age": 22.41, "age2": 27.61, "hi": 129.7, "lo": 108.0},
   {"age": 28.53, "age2": 35.1, "hi": 131.0, "lo": 112.8},
   {"age": 26.32, "age2": 33.77, "hi": 88.8, "lo": 66.8},
   {"age": 1.56, "age2": 15.27, "hi": 41.4, "lo": 32.1},
   {"age": 27.15, "age2": 33.22, "hi": -11.5, "lo": -29}
  ]},
  "mark": {"type": "rect", "fill": "#fff", "stroke": "#000", "strokeWidth": 1.5},
  "encoding": {"x2": {"field": "age2"}, "y2": {"field": "lo"}}},
 {"data": {"values": [
   {"age": 6.44, "hi": 109.4, "lo": 95.0},
   {"age": 12.33, "hi": 119.5, "lo": 96.0},
   {"age": 15.87, "hi": 107.2, "lo": 99.0},
   {"age": 20.43, "hi": 122.5, "lo": 93.6},
   {"age": 25.03, "hi": 108.0, "lo": 91.2},
   {"age": 32.21, "hi": 112.8, "lo": 97.0}
  ]},
  "mark": {"type": "rule", "color": "#000", "strokeWidth": 2},
  "encoding": {"y2": {"field": "lo"}}},
 {"data": {"values": [
   {"age": 6.44, "hi": 95.0},
   {"age": 12.33, "hi": 96.0},
   {"age": 15.87, "hi": 99.0},
   {"age": 20.43, "hi": 93.6},
   {"age": 25.03, "hi": 91.2},
   {"age": 32.21, "hi": 97.0}
  ]},
  "mark": {"type": "point", "shape": "triangle-down", "filled": true, "color": "#000", "size": 55, "opacity": 1}},
 {"data": {"values": [
   {"age": 22.91, "hi": 50.0, "lo": -11.5},
   {"age": 30.2, "hi": 31.5, "lo": -11.5}
  ]},
  "mark": {"type": "rule", "color": "#000", "strokeWidth": 4.5},
  "encoding": {"y2": {"field": "lo"}}},
 {"data": {"values": [
   {"age": 22.91, "hi": 48.8},
   {"age": 30.2, "hi": 30.3}
  ]},
  "mark": {"type": "point", "shape": "triangle-up", "filled": true, "color": "#000", "size": 130, "opacity": 1}},
 {"data": {"values": [
   {"age": 5.98, "hi": 112.8, "t": "Avec un parent biologique"},
   {"age": 12.03, "hi": 127.5, "t": "Avec un parent biologique et son"},
   {"age": 12.03, "hi": 123.0, "t": "partenaire"},
   {"age": 15.85, "hi": 111.0, "t": "Autre"},
   {"age": 20.40, "hi": 126.2, "t": "Amis"},
   {"age": 25.01, "hi": 126.2, "t": "Avec"},
   {"age": 25.01, "hi": 121.4, "t": "partenaire et"},
   {"age": 25.01, "hi": 116.6, "t": "enfant(s) non"},
   {"age": 25.01, "hi": 111.8, "t": "biologique(s)"},
   {"age": 31.93, "hi": 128.3, "t": "Avec enfant(s)"},
   {"age": 31.93, "hi": 123.0, "t": "biologique(s) sans"},
   {"age": 31.93, "hi": 118.2, "t": "partenaire"}
  ]},
  "mark": {"type": "text", "font": "Liberation Sans", "fontStyle": "italic", "fontSize": 12, "align": "center", "baseline": "middle", "color": "#111"},
  "encoding": {"text": {"field": "t"}}},
 {"data": {"values": [
   {"age": 30.04, "hi": 84.0, "t": "Avec partenaire"},
   {"age": 30.04, "hi": 77.3, "t": "enfant(s)"},
   {"age": 30.04, "hi": 70.6, "t": "biologique(s)"},
   {"age": 8.42, "hi": 36.6, "t": "Avec deux parents biologiques"}
  ]},
  "mark": {"type": "text", "font": "Liberation Sans", "fontSize": 16, "align": "center", "baseline": "middle", "color": "#111"},
  "encoding": {"text": {"field": "t"}}},
 {"data": {"values": [
   {"age": 27.56, "hi": -16.3, "t": "Avec un(e)"},
   {"age": 27.56, "hi": -23.0, "t": "partenaire"}
  ]},
  "mark": {"type": "text", "font": "Liberation Sans", "fontSize": 16, "align": "left", "baseline": "middle", "color": "#111"},
  "encoding": {"text": {"field": "t"}}},
 {"data": {"values": [
   {"age": 22.91, "hi": -16.0, "t": "Solo"}
  ]},
  "mark": {"type": "text", "font": "Liberation Sans", "fontWeight": "bold", "fontSize": 30, "align": "center", "baseline": "middle", "color": "#000"},
  "encoding": {"text": {"field": "t"}}}
]
}
